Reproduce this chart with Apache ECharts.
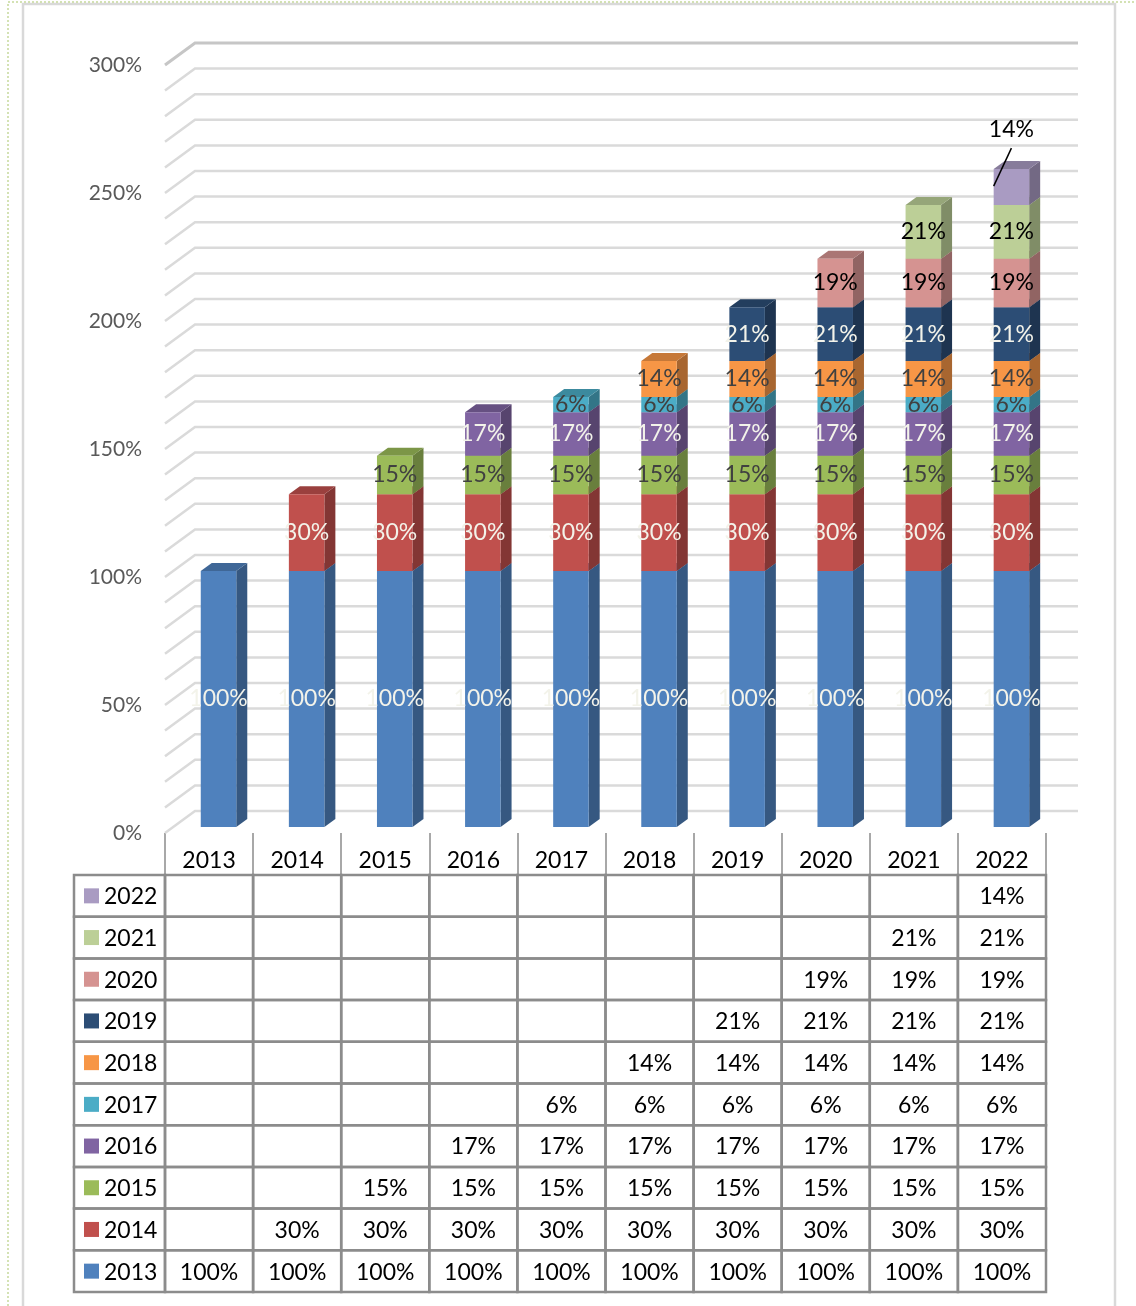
<!DOCTYPE html>
<html>
<head>
<meta charset="utf-8">
<title>累计增长</title>
<script src="https://cdn.jsdelivr.net/npm/echarts@6.0.0/dist/echarts.min.js"></script>
<style>
  html, body { margin: 0; padding: 0; background: #ffffff; }
  #chart { width: 1136px; height: 1306px; }
</style>
</head>
<body>
<div id="chart"></div>
<script>
// Categories (x axis) and stacked series, one array per series
const categories = ['2013', '2014', '2015', '2016', '2017', '2018', '2019', '2020', '2021', '2022'];
const seriesNames = ['2013', '2014', '2015', '2016', '2017', '2018', '2019', '2020', '2021', '2022'];

const v2013 = [100, 100, 100, 100, 100, 100, 100, 100, 100, 100];
const v2014 = [null, 30, 30, 30, 30, 30, 30, 30, 30, 30];
const v2015 = [null, null, 15, 15, 15, 15, 15, 15, 15, 15];
const v2016 = [null, null, null, 17, 17, 17, 17, 17, 17, 17];
const v2017 = [null, null, null, null, 6, 6, 6, 6, 6, 6];
const v2018 = [null, null, null, null, null, 14, 14, 14, 14, 14];
const v2019 = [null, null, null, null, null, null, 21, 21, 21, 21];
const v2020 = [null, null, null, null, null, null, null, 19, 19, 19];
const v2021 = [null, null, null, null, null, null, null, null, 21, 21];
const v2022 = [null, null, null, null, null, null, null, null, null, 14];
const seriesValues = [v2013, v2014, v2015, v2016, v2017, v2018, v2019, v2020, v2021, v2022];

// Value axis: labelled every 50 %, gridlines every 10 %
const yMin = 0, yMax = 300, yLabelStep = 50, gridStep = 10;

// Styling
const seriesColors = ['#4f81bd', '#c0504d', '#9bbb59', '#8064a2', '#4bacc6',
                      '#f79646', '#2c4d75', '#d59391', '#bccf97', '#a99bc2'];
const labelColors = ['#f3f3ea', '#f3f3ea', '#404040', '#f3f3ea', '#404040',
                     '#404040', '#f3f3ea', '#000000', '#000000', '#000000'];
const labelAbove = [false, false, false, false, false, false, false, false, false, true];
const FONT = 'Lato, "Open Sans", sans-serif';

// Depth offsets of the pseudo-3D look (pixels)
const WALL_DX = 30, WALL_DY = -22;   // back wall relative to front plane
const BAR_LIFT = -6;                  // bars stand slightly behind the front edge
const BAR_DX = 11, BAR_DY = -8;       // bar depth

function shade(hex, f) {
  const n = parseInt(hex.slice(1), 16);
  const r = Math.round(((n >> 16) & 255) * f);
  const g = Math.round(((n >> 8) & 255) * f);
  const b = Math.round((n & 255) * f);
  return 'rgb(' + r + ',' + g + ',' + b + ')';
}

// Gridlines on the back wall with the diagonal run along the left wall
const gridValues = [];
for (let v = yMin; v <= yMax; v += gridStep) gridValues.push([0, v]);

function renderGridline(params, api) {
  const cs = params.coordSys;
  const v = api.value(1);
  const y = api.coord([0, v])[1];
  const xl = cs.x;
  const xr = cs.x + cs.width + WALL_DX + 2;
  const isTop = v === yMax;
  return {
    type: 'polyline',
    shape: { points: [[xl, y], [xl + WALL_DX, y + WALL_DY], [xr, y + WALL_DY]] },
    style: { stroke: isTop ? '#c6c6c6' : '#dadada', lineWidth: isTop ? 3 : 2.5, fill: null },
    silent: true
  };
}

// One stacked pseudo-3D bar segment
function makeSegmentRenderer(k) {
  const front = seriesColors[k];
  const side = shade(front, 0.68);
  const top = shade(front, 0.8);
  return function (params, api) {
    const j = api.value(0);
    const v = api.value(1);
    let base = 0;
    for (let m = 0; m < k; m++) base += seriesValues[m][j] || 0;
    const pBot = api.coord([j, base]);
    const pTop = api.coord([j, base + v]);
    const bw = api.size([1, 0])[0];
    const w = bw * 0.403;
    const x0 = pBot[0] - bw * 0.094;
    const x1 = x0 + w;
    const yB = pBot[1] + BAR_LIFT;
    const yT = pTop[1] + BAR_LIFT;
    const children = [
      { type: 'polygon', shape: { points: [[x1, yT], [x1 + BAR_DX, yT + BAR_DY], [x1 + BAR_DX, yB + BAR_DY], [x1, yB]] },
        style: { fill: side } },
      { type: 'polygon', shape: { points: [[x0, yT], [x0 + BAR_DX, yT + BAR_DY], [x1 + BAR_DX, yT + BAR_DY], [x1, yT]] },
        style: { fill: top } },
      { type: 'rect', shape: { x: x0, y: yT, width: w, height: yB - yT }, style: { fill: front } }
    ];
    const txt = v + '%';
    if (labelAbove[k]) {
      const cx = x0 + w / 2;
      children.push({ type: 'line', shape: { x1: cx, y1: yT - 21, x2: x0, y2: yT + 17 },
        style: { stroke: '#000000', lineWidth: 1.5 } });
      children.push({ type: 'text', style: { text: txt, x: cx, y: yT - 40,
        align: 'center', verticalAlign: 'middle', textAlign: 'center', textVerticalAlign: 'middle',
        fill: labelColors[k], fontSize: 23, fontFamily: FONT } });
    } else {
      children.push({ type: 'text', style: { text: txt, x: x0 + w / 2, y: (yT + yB) / 2,
        align: 'center', verticalAlign: 'middle', textAlign: 'center', textVerticalAlign: 'middle',
        fill: labelColors[k], fontSize: 23, fontFamily: FONT } });
    }
    return { type: 'group', children: children };
  };
}

// Data table below the plot: one cell per (category, series)
const tableCells = [];
for (let i = 0; i < seriesNames.length; i++) {
  for (let j = 0; j < categories.length; j++) tableCells.push([j, i]);
}
const LEGEND_COL_W = 91;
const TABLE_LINE = '#8c8c8c';

function renderTableCell(params, api) {
  const j = api.value(0);
  const i = api.value(1);
  const c = api.coord([j, i]);
  const sz = api.size([1, 1]);
  const x = c[0] - sz[0] / 2;
  const y = c[1] - sz[1] / 2;
  const children = [
    { type: 'rect', shape: { x: x, y: y, width: sz[0], height: sz[1] },
      style: { fill: null, stroke: TABLE_LINE, lineWidth: 2.5 } }
  ];
  const val = seriesValues[i][j];
  if (val != null) {
    children.push({ type: 'text', style: { text: val + '%', x: c[0], y: c[1] + 1,
      align: 'center', verticalAlign: 'middle', textAlign: 'center', textVerticalAlign: 'middle',
      fill: '#000000', fontSize: 23, fontFamily: FONT } });
  }
  if (j === 0) {
    const lx = x - LEGEND_COL_W;
    children.push({ type: 'rect', shape: { x: lx, y: y, width: LEGEND_COL_W, height: sz[1] },
      style: { fill: null, stroke: TABLE_LINE, lineWidth: 2.5 } });
    children.push({ type: 'rect', shape: { x: lx + 10, y: c[1] - 7.5, width: 15, height: 15 },
      style: { fill: seriesColors[i] } });
    children.push({ type: 'text', style: { text: seriesNames[i], x: lx + 30, y: c[1] + 1,
      align: 'left', verticalAlign: 'middle', textAlign: 'left', textVerticalAlign: 'middle',
      fill: '#000000', fontSize: 23, fontFamily: FONT } });
  }
  return { type: 'group', children: children };
}

const series = [
  { type: 'custom', name: 'grid', xAxisIndex: 0, yAxisIndex: 0, data: gridValues,
    renderItem: renderGridline, clip: false, silent: true, z: 1 }
];
seriesNames.forEach(function (name, k) {
  const data = [];
  seriesValues[k].forEach(function (v, j) { if (v != null) data.push([j, v]); });
  series.push({ type: 'custom', name: name, xAxisIndex: 0, yAxisIndex: 0, data: data,
    renderItem: makeSegmentRenderer(k), clip: false, z: 2 });
});
series.push({ type: 'custom', name: 'table', xAxisIndex: 1, yAxisIndex: 1, data: tableCells,
  renderItem: renderTableCell, clip: false, z: 3 });

const option = {
  backgroundColor: '#ffffff',
  animation: false,
  textStyle: { fontFamily: FONT },
  grid: [
    { left: 165, right: 90, top: 65, bottom: 473, containLabel: false },
    { left: 165, right: 90, top: 875, bottom: 14, containLabel: false }
  ],
  xAxis: [
    { type: 'category', gridIndex: 0, data: categories, boundaryGap: true,
      axisLine: { show: false },
      axisTick: { show: true, interval: 0, length: 42, lineStyle: { color: '#a8a8a8', width: 2 } },
      axisLabel: { interval: 0, margin: 16, color: '#000000', fontSize: 23, fontFamily: FONT },
      splitLine: { show: false } },
    { type: 'category', gridIndex: 1, data: categories, show: false }
  ],
  yAxis: [
    { type: 'value', gridIndex: 0, min: yMin, max: yMax, interval: yLabelStep,
      axisLine: { show: false }, axisTick: { show: false }, splitLine: { show: false },
      axisLabel: { formatter: '{value}%', margin: 23, color: '#595959', fontSize: 21, fontFamily: FONT } },
    { type: 'category', gridIndex: 1, data: seriesNames, show: false }
  ],
  graphic: [
    // chart area frame
    { type: 'polyline', silent: true, z: 0,
      shape: { points: [[23, 1310], [23, 4], [1115, 4], [1115, 1310]] },
      style: { fill: null, stroke: '#d9d9d9', lineWidth: 2.5 } },
    // selection outline
    { type: 'polyline', silent: true, z: 0,
      shape: { points: [[8, 1310], [8, 2], [1140, 2]] },
      style: { fill: null, stroke: '#c6d99c', lineWidth: 1.5, lineDash: [2, 2] } }
  ],
  series: series
};

const chart = echarts.init(document.getElementById('chart'), null, { renderer: 'canvas' });
chart.setOption(option);
</script>
</body>
</html>
